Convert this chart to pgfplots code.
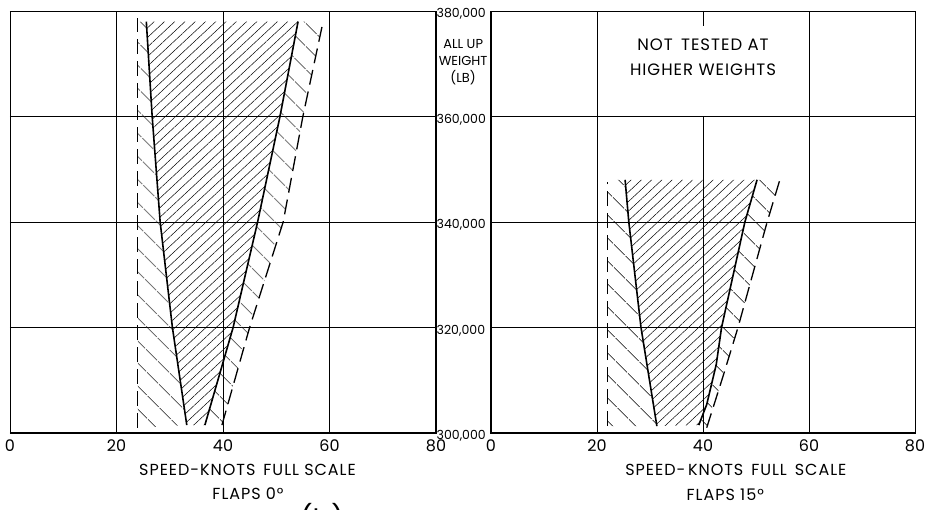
\documentclass[border=0pt]{standalone}
\usepackage{fontspec}
\setmainfont{Poppins}
\newfontfamily\wide[LetterSpace=6]{Poppins}
\usepackage{pgfplots}
\pgfplotsset{compat=1.18}
\usetikzlibrary{patterns.meta}

\pgfplotsset{
  speedax/.style={
    scale only axis, height=422pt,
    xmin=0, xmax=80, ymin=300000, ymax=380000,
    xtick={0,20,...,80}, ytick={300000,320000,...,380000},
    scaled y ticks=false,
    grid=major, grid style={black, line width=0.5pt},
    axis line style={black, line width=0.5pt},
    major tick length=0pt,
    xticklabel style={font=\fontsize{16}{16}\selectfont, yshift=-3pt},
    /pgf/number format/assume math mode=true,
    clip=false,
  },
  inner/.style={draw=none, pattern={Lines[angle=43,distance=7pt,line width=0.5pt]}},
  outer/.style={draw=none, pattern={Lines[angle=-45,distance=17pt,line width=0.6pt]}},
  bound/.style={black, line width=1.6pt, no marks},
  limit/.style={black, line width=1.3pt, no marks, dash pattern=on 15pt off 7pt},
}

\begin{document}
\begin{tikzpicture}
% flaps 0
\begin{axis}[speedax, width=426pt, at={(0pt,0pt)}, anchor=south west,
    yticklabel pos=right,
    yticklabels={{300,000},{320,000},{340,000},{360,000},{380,000}},
    yticklabel style={anchor=west, inner sep=0.5pt, yshift=-3pt, font=\fontsize{12.5}{12.5}\selectfont}]
  % hatched strips
  \addplot[outer] coordinates {(24,301000) (24,378000) (25.6,378000) (26.7,360000) (28.2,340000) (30.5,320000) (33.2,301500)} -- cycle;
  \addplot[inner] coordinates {(33.2,301500) (30.5,320000) (28.2,340000) (26.7,360000) (25.6,378000) (54.1,378000) (50.7,360000) (46.5,340000) (41.9,320000) (36.6,301500)} -- cycle;
  \addplot[outer] coordinates {(36.6,301500) (41.9,320000) (46.5,340000) (50.7,360000) (54.1,378000) (58.8,378000) (55,360000) (51.3,340000) (45,320000) (39.8,301500)} -- cycle;
  % boundaries
  \addplot[bound] coordinates {(33.2,301500) (30.5,320000) (28.2,340000) (26.7,360000) (25.6,378000)};
  \addplot[bound] coordinates {(36.6,301500) (41.9,320000) (46.5,340000) (50.7,360000) (54.1,378000)};
  \addplot[limit] coordinates {(24,301000) (24,378700)};
  \addplot[limit] coordinates {(39.8,301500) (45,320000) (51.3,340000) (55,360000) (58.8,378000)};
  \draw[line width=1.6pt] (rel axis cs:0,0) -- (rel axis cs:1,0) -- (rel axis cs:1,1);
  \node[align=center, font=\fontsize{13}{17}\selectfont] at (axis cs:85.1,370300) {ALL UP\\WEIGHT\\(LB)};
  \node[font=\wide\fontsize{16}{16}\selectfont] at (axis cs:44.6,300000) [yshift=-37pt] {SPEED-KNOTS\enspace FULL SCALE};
  \node[font=\wide\fontsize{16}{16}\selectfont] at (axis cs:44.7,300000) [yshift=-61pt] {FLAPS 0°};
\end{axis}
% flaps 15
\begin{axis}[speedax, width=424pt, at={(481pt,0pt)}, anchor=south west,
    xtick={0,20,60,80}, extra x ticks={40}, extra x tick style={xmajorgrids=false},
    yticklabels={}]
  \addplot[outer] coordinates {(22,301300) (22,348000) (25.3,348000) (26.0,340000) (28.3,320000) (31.3,301300)} -- cycle;
  \addplot[inner] coordinates {(31.3,301300) (28.3,320000) (26.0,340000) (25.3,348000) (50.2,348000) (47.9,340000) (43.5,320000) (42.5,313000) (40.7,305400) (39.2,301500)} -- cycle;
  \addplot[outer] coordinates {(39.2,301500) (40.7,305400) (42.5,313000) (43.5,320000) (47.9,340000) (50.2,348000) (54.5,348000) (52.1,340000) (46.6,320000) (43.7,310500) (40.7,301000)} -- cycle;
  \addplot[bound] coordinates {(31.3,301300) (28.3,320000) (26.0,340000) (25.3,348000)};
  \addplot[bound] coordinates {(39.2,301500) (40.7,305400) (42.5,313000) (43.5,320000) (47.9,340000) (50.2,348000)};
  \addplot[limit] coordinates {(22,301300) (22,347500)};
  \addplot[limit] coordinates {(40.7,301000) (43.7,310500) (46.6,320000) (52.1,340000) (54.5,348000)};
  \draw[line width=0.5pt] (axis cs:40,300000) -- (axis cs:40,360000);
  \draw[line width=0.5pt] (axis cs:40,380000) -- (axis cs:40,377200);
  \draw[line width=1.6pt] (rel axis cs:1,0) -- (rel axis cs:0,0) -- (rel axis cs:0,1);
  \node[align=center, font=\wide\fontsize{16.5}{25}\selectfont] at (axis cs:40,371300) {NOT\enspace TESTED AT\\HIGHER WEIGHTS};
  \node[font=\wide\fontsize{16}{16}\selectfont] at (axis cs:46.2,300000) [yshift=-37pt] {SPEED-\,KNOTS\enspace FULL\enspace SCALE};
  \node[font=\wide\fontsize{16}{16}\selectfont] at (axis cs:44.2,300000) [yshift=-62pt] {FLAPS 15°};
\end{axis}
\node[font=\fontsize{28}{28}\selectfont] at (312pt,-86pt) {(b)};
\pgfresetboundingbox
\path[use as bounding box] (-10pt,-77pt) rectangle (921pt,433pt);
\end{tikzpicture}
\end{document}
